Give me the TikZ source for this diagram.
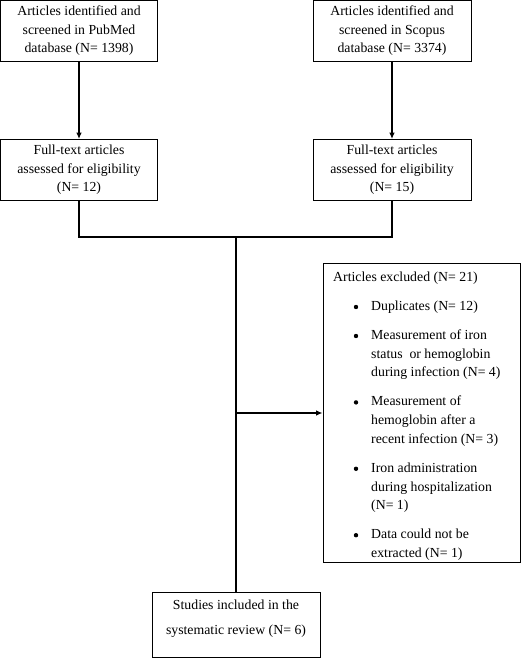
\documentclass[tikz,border=0pt]{standalone}
\usepackage{fontspec}
\setmainfont{Liberation Serif}
\usetikzlibrary{arrows.meta}
\begin{document}
\begin{tikzpicture}[x=1pt,y=-1pt,
  box/.style={draw, line width=0.8pt, inner sep=0pt, align=center,
              font=\fontsize{13.8}{18.4}\selectfont},
  conn/.style={line width=1.4pt},
  arr/.style={conn, -{Latex[length=6.5pt,width=5.5pt]}},
  ln/.style={inner sep=0pt, anchor=base west, font=\fontsize{13.8}{18.4}\selectfont},
  lnc/.style={inner sep=0pt, anchor=base, font=\fontsize{13.8}{18.4}\selectfont},
  bul/.style={circle, fill, inner sep=0pt, minimum size=4.4pt}]
\useasboundingbox (0,0) rectangle (521,658);

% top boxes
\node[box, minimum width=157pt, minimum height=61pt] (A) at (79,31)
  {Articles identified and\\screened in PubMed\\database (N= 1398)};
\node[box, minimum width=158pt, minimum height=61pt] (B) at (392,31)
  {Articles identified and\\screened in Scopus\\database (N= 3374)};
\node[box, minimum width=157pt, minimum height=61pt] (C) at (79,170)
  {Full-text articles\\assessed for eligibility\\(N= 12)};
\node[box, minimum width=158pt, minimum height=61pt] (D) at (392,170)
  {Full-text articles\\assessed for eligibility\\(N= 15)};

% included box
\node[box, minimum width=168pt, minimum height=65pt] (E) at (236,624.5) {};
\node[lnc] (E1) at (236,609.5) {Studies included in the};
\node[lnc] (E2) at (236,634) {systematic review (N= 6)};

% excluded box
\node[box, minimum width=197pt, minimum height=299pt] (F) at (421.5,412.5) {};
\node[ln] (F0) at (333,281.5) {Articles excluded (N= 21)};
\node[bul] (b1) at (356,307) {};
\node[ln] (F1) at (371,310.5) {Duplicates (N= 12)};
\node[bul] (b2) at (356,336) {};
\node[ln] (F2a) at (371,339.5) {Measurement of iron};
\node[ln] (F2b) at (371,358.2) {status\ \ or hemoglobin};
\node[ln] (F2c) at (371,376.9) {during infection (N= 4)};
\node[bul] (b3) at (356,402.4) {};
\node[ln] (F3a) at (371,405.9) {Measurement of};
\node[ln] (F3b) at (371,424.6) {hemoglobin after a};
\node[ln] (F3c) at (371,443.3) {recent infection (N= 3)};
\node[bul] (b4) at (356,468.8) {};
\node[ln] (F4a) at (371,472.3) {Iron administration};
\node[ln] (F4b) at (371,491.0) {during hospitalization};
\node[ln] (F4c) at (371,509.7) {(N= 1)};
\node[bul] (b5) at (356,535.2) {};
\node[ln] (F5a) at (371,538.7) {Data could not be};
\node[ln] (F5b) at (371,557.4) {extracted (N= 1)};

% connectors
\coordinate (m) at (236,237);
\coordinate (k) at (236,413);
\draw[arr] (A.south) -- (C.north);
\draw[arr] (B.south) -- (D.north);
\draw[conn] (C.south) |- (m) -| (D.south);
\draw[conn] (m) -- (E.north);
\draw[arr] (k) -- (k -| F.west);
\end{tikzpicture}
\end{document}
